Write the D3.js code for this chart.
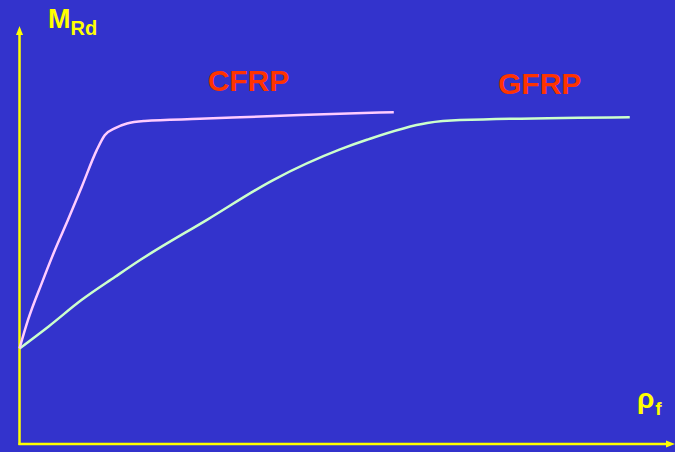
<!DOCTYPE html>
<html>
<head>
<meta charset="utf-8">
<script src="https://cdn.jsdelivr.net/npm/d3@7"></script>
<style>
  html, body { margin: 0; padding: 0; background: #3333cc; }
  svg { display: block; }
</style>
</head>
<body>
<div id="chart"></div>
<script>
// svg dimensions
var svgWidth = 675;
var svgHeight = 452;

// curve data (arbitrary units: rho_f 0..100, M_Rd 0..100)
var cfrpX = [0, 1.3, 3.4, 5.4, 7.4, 9.5, 11.8, 13.0, 14.6, 16.4, 19.1, 27.5, 42.8, 57.1];
var cfrpY = [22.8, 29.6, 38.4, 46.3, 53.5, 61.4, 70.2, 73.7, 75.4, 76.5, 77.1, 77.6, 78.5, 79.2];

var gfrpX = [0, 4.4, 9.5, 14.6, 18.4, 28.6, 38.7, 48.9, 53.0, 62.2, 67.2, 93.1];
var gfrpY = [22.8, 28.0, 34.4, 39.9, 43.9, 53.5, 63.0, 70.3, 72.6, 76.6, 77.3, 78.0];

var seriesNames = ["CFRP", "GFRP"];

var svg = d3.select("#chart")
  .append("svg")
  .attr("width", svgWidth)
  .attr("height", svgHeight);

svg.append("rect")
  .attr("width", svgWidth)
  .attr("height", svgHeight)
  .attr("fill", "#3333cc");

// scales
var xScale = d3.scaleLinear().domain([0, 100]).range([19.5, 675]);
var yScale = d3.scaleLinear().domain([0, 100]).range([444, 25]);

// axes (plain arrows)
var axisColor = "#ffff00";
svg.append("line")
  .attr("x1", xScale(0)).attr("y1", yScale(0) + 1)
  .attr("x2", xScale(0)).attr("y2", 32)
  .attr("stroke", axisColor).attr("stroke-width", 2.5);
svg.append("path")
  .attr("d", `M${xScale(0) - 3.5},35 L${xScale(0)},26 L${xScale(0) + 3.5},35 Z`)
  .attr("fill", axisColor);

svg.append("line")
  .attr("x1", xScale(0) - 1).attr("y1", yScale(0))
  .attr("x2", 667).attr("y2", yScale(0))
  .attr("stroke", axisColor).attr("stroke-width", 2.5);
svg.append("path")
  .attr("d", `M666,${yScale(0) - 3.5} L675,${yScale(0)} L666,${yScale(0) + 3.5} Z`)
  .attr("fill", axisColor);

// axis labels
var yLab = svg.append("text")
  .attr("x", 48).attr("y", 28)
  .attr("font-family", "Liberation Sans, Arial, sans-serif")
  .attr("font-weight", "bold")
  .attr("fill", axisColor);
yLab.append("tspan").attr("font-size", 27).text("M");
yLab.append("tspan").attr("font-size", 20).attr("dy", 7).text("Rd");

var xLab = svg.append("text")
  .attr("x", 637).attr("y", 408)
  .attr("font-family", "Liberation Sans, Arial, sans-serif")
  .attr("font-weight", "bold")
  .attr("fill", axisColor);
xLab.append("tspan").attr("font-size", 28).text("ρ");
xLab.append("tspan").attr("font-size", 19).attr("dx", 1).attr("dy", 7).text("f");

// lines
var line = d3.line()
  .x(d => xScale(d[0]))
  .y(d => yScale(d[1]))
  .curve(d3.curveMonotoneX);

svg.append("path")
  .datum(d3.zip(gfrpX, gfrpY))
  .attr("d", line)
  .attr("fill", "none")
  .attr("stroke", "#ccffcc")
  .attr("stroke-width", 2.5);

svg.append("path")
  .datum(d3.zip(cfrpX, cfrpY))
  .attr("d", line)
  .attr("fill", "none")
  .attr("stroke", "#ffccff")
  .attr("stroke-width", 2.5);

// series labels
var labelPos = [[28.7, 84.3], [73.0, 83.5]];
svg.selectAll(".serieslabel")
  .data(seriesNames)
  .enter()
  .append("text")
  .attr("class", "serieslabel")
  .attr("x", (d, i) => xScale(labelPos[i][0]))
  .attr("y", (d, i) => yScale(labelPos[i][1]))
  .attr("font-family", "Liberation Sans, Arial, sans-serif")
  .attr("font-weight", "bold")
  .attr("font-size", 30)
  .attr("fill", "#ff3300")
  .text(d => d);
</script>
</body>
</html>
